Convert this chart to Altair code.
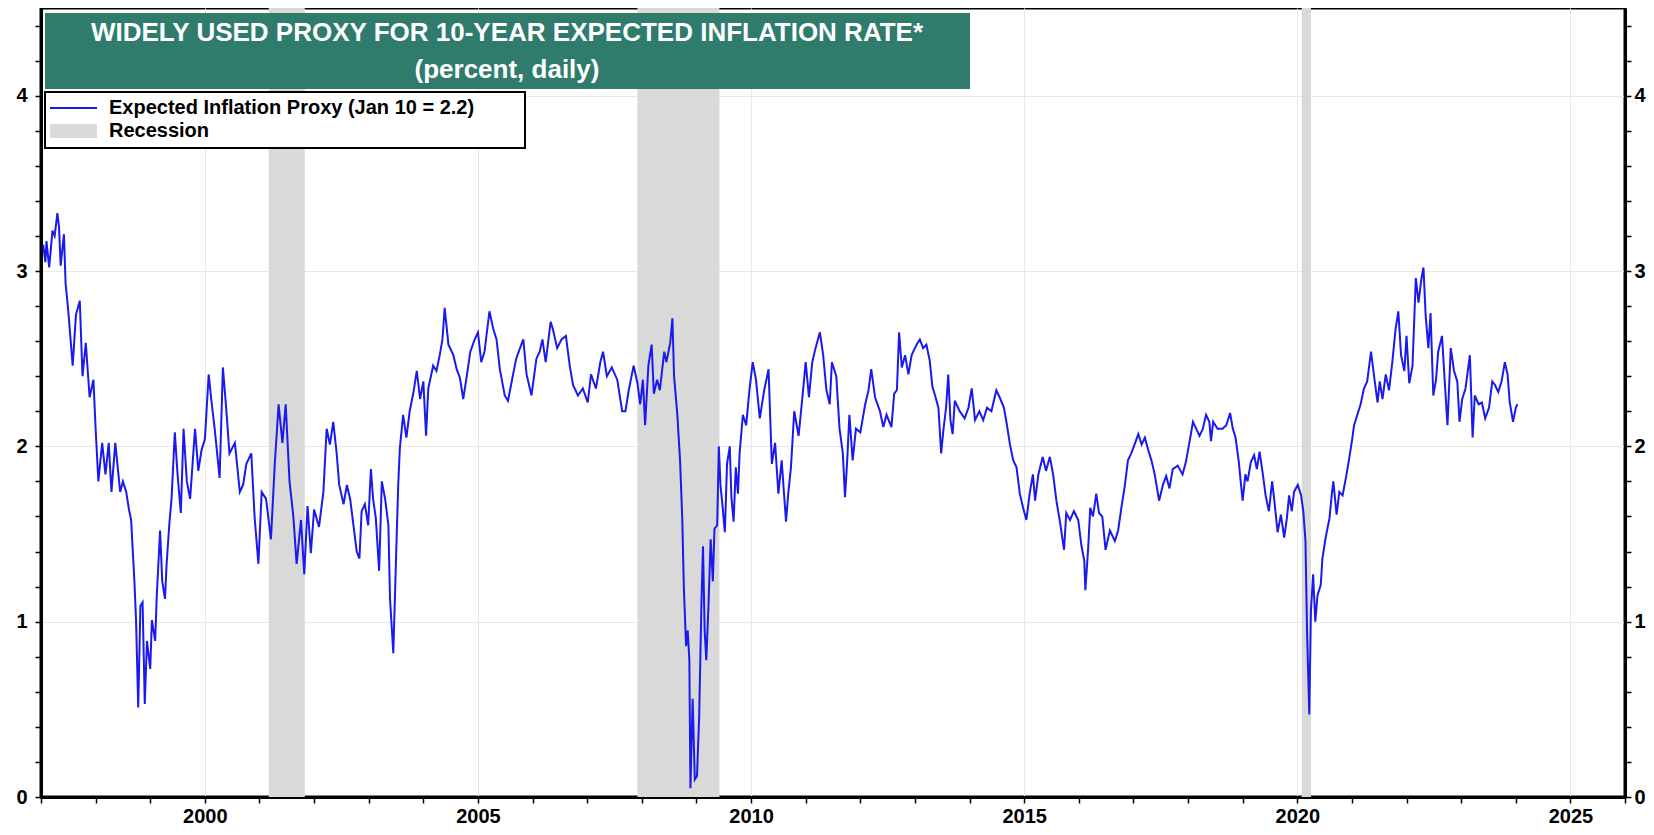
import altair as alt
import pandas as pd

# ---- data (decimal year, percent) ----
years = [
    1997.04, 1997.08, 1997.10, 1997.15, 1997.21, 1997.25, 1997.30, 1997.33, 1997.36, 1997.42,
    1997.45, 1997.50, 1997.58, 1997.64, 1997.71, 1997.76, 1997.82, 1997.89, 1997.96, 1998.00,
    1998.05, 1998.12, 1998.18, 1998.24, 1998.29, 1998.36, 1998.45, 1998.50, 1998.56, 1998.61,
    1998.65, 1998.71, 1998.74, 1998.78, 1998.82, 1998.86, 1998.90, 1998.94, 1999.00, 1999.03,
    1999.09, 1999.12, 1999.18, 1999.22, 1999.27, 1999.30, 1999.35, 1999.39, 1999.45, 1999.50,
    1999.56, 1999.61, 1999.67, 1999.73, 1999.82, 1999.88, 1999.94, 2000.00, 2000.07, 2000.12,
    2000.18, 2000.27, 2000.33, 2000.39, 2000.45, 2000.55, 2000.64, 2000.70, 2000.76, 2000.85,
    2000.91, 2000.98, 2001.04, 2001.12, 2001.21, 2001.28, 2001.35, 2001.42, 2001.48, 2001.55,
    2001.62, 2001.68, 2001.76, 2001.82, 2001.88, 2001.94, 2002.00, 2002.09, 2002.17, 2002.23,
    2002.29, 2002.35, 2002.41, 2002.46, 2002.54, 2002.60, 2002.66, 2002.72, 2002.78, 2002.83,
    2002.87, 2002.93, 2002.99, 2003.04, 2003.08, 2003.13, 2003.19, 2003.24, 2003.30, 2003.36,
    2003.39, 2003.45, 2003.50, 2003.54, 2003.57, 2003.63, 2003.69, 2003.75, 2003.82, 2003.88,
    2003.94, 2004.00, 2004.05, 2004.09, 2004.18, 2004.24, 2004.30, 2004.35, 2004.39, 2004.46,
    2004.55, 2004.61, 2004.67, 2004.73, 2004.79, 2004.86, 2004.94, 2005.00, 2005.06, 2005.12,
    2005.21, 2005.28, 2005.34, 2005.40, 2005.49, 2005.55, 2005.63, 2005.70, 2005.77, 2005.83,
    2005.89, 2005.98, 2006.07, 2006.13, 2006.18, 2006.24, 2006.33, 2006.37, 2006.45, 2006.53,
    2006.61, 2006.68, 2006.74, 2006.83, 2006.92, 2007.01, 2007.07, 2007.16, 2007.24, 2007.29,
    2007.36, 2007.45, 2007.55, 2007.64, 2007.70, 2007.76, 2007.85, 2007.92, 2007.97, 2008.02,
    2008.06, 2008.12, 2008.18, 2008.22, 2008.28, 2008.33, 2008.41, 2008.45, 2008.52, 2008.56,
    2008.59, 2008.65, 2008.70, 2008.74, 2008.77, 2008.81, 2008.84, 2008.87, 2008.89, 2008.93,
    2008.97, 2009.01, 2009.05, 2009.09, 2009.12, 2009.15, 2009.18, 2009.22, 2009.26, 2009.30,
    2009.33, 2009.38, 2009.41, 2009.44, 2009.48, 2009.52, 2009.56, 2009.61, 2009.64, 2009.68,
    2009.72, 2009.76, 2009.79, 2009.85, 2009.91, 2009.97, 2010.03, 2010.09, 2010.16, 2010.24,
    2010.32, 2010.38, 2010.44, 2010.50, 2010.56, 2010.64, 2010.68, 2010.73, 2010.79, 2010.87,
    2010.94, 2011.00, 2011.06, 2011.12, 2011.18, 2011.26, 2011.32, 2011.38, 2011.44, 2011.48,
    2011.56, 2011.62, 2011.68, 2011.72, 2011.76, 2011.80, 2011.86, 2011.92, 2012.00, 2012.09,
    2012.15, 2012.20, 2012.27, 2012.36, 2012.42, 2012.48, 2012.57, 2012.62, 2012.67, 2012.71,
    2012.76, 2012.82, 2012.88, 2012.94, 2013.03, 2013.09, 2013.15, 2013.21, 2013.27, 2013.32,
    2013.36, 2013.43, 2013.48, 2013.52, 2013.57, 2013.61, 2013.65, 2013.69, 2013.73, 2013.82,
    2013.91, 2013.98, 2014.04, 2014.10, 2014.18, 2014.25, 2014.32, 2014.40, 2014.49, 2014.55,
    2014.63, 2014.68, 2014.74, 2014.80, 2014.86, 2014.92, 2014.98, 2015.04, 2015.10, 2015.16,
    2015.20, 2015.26, 2015.34, 2015.40, 2015.47, 2015.53, 2015.59, 2015.65, 2015.73, 2015.77,
    2015.84, 2015.91, 2015.99, 2016.05, 2016.10, 2016.12, 2016.17, 2016.21, 2016.26, 2016.32,
    2016.37, 2016.43, 2016.49, 2016.57, 2016.66, 2016.72, 2016.78, 2016.84, 2016.90, 2016.96,
    2017.02, 2017.09, 2017.15, 2017.21, 2017.27, 2017.33, 2017.39, 2017.47, 2017.54, 2017.60,
    2017.66, 2017.72, 2017.81, 2017.90, 2017.96, 2018.03, 2018.09, 2018.15, 2018.21, 2018.27,
    2018.33, 2018.39, 2018.42, 2018.46, 2018.54, 2018.63, 2018.70, 2018.77, 2018.82, 2018.87,
    2018.93, 2018.97, 2019.00, 2019.05, 2019.09, 2019.15, 2019.21, 2019.26, 2019.31, 2019.37,
    2019.42, 2019.48, 2019.54, 2019.58, 2019.64, 2019.70, 2019.76, 2019.81, 2019.85, 2019.90,
    2019.94, 2020.01, 2020.07, 2020.11, 2020.15, 2020.18, 2020.22, 2020.25, 2020.29, 2020.33,
    2020.37, 2020.43, 2020.46, 2020.52, 2020.59, 2020.63, 2020.66, 2020.72, 2020.77, 2020.83,
    2020.89, 2020.94, 2021.00, 2021.04, 2021.10, 2021.16, 2021.22, 2021.28, 2021.35, 2021.41,
    2021.47, 2021.51, 2021.56, 2021.62, 2021.68, 2021.74, 2021.80, 2021.85, 2021.90, 2021.96,
    2022.00, 2022.05, 2022.11, 2022.17, 2022.22, 2022.27, 2022.31, 2022.35, 2022.40, 2022.44,
    2022.49, 2022.54, 2022.58, 2022.65, 2022.69, 2022.75, 2022.81, 2022.87, 2022.93, 2022.97,
    2023.02, 2023.08, 2023.16, 2023.21, 2023.25, 2023.32, 2023.38, 2023.44, 2023.51, 2023.57,
    2023.62, 2023.68, 2023.74, 2023.80, 2023.85, 2023.89, 2023.95, 2024.00, 2024.03,
]
values = [
    3.15, 3.05, 3.17, 3.02, 3.23, 3.20, 3.33, 3.25, 3.03, 3.21,
    2.93, 2.77, 2.46, 2.75, 2.83, 2.40, 2.59, 2.28, 2.38, 2.10,
    1.80, 2.02, 1.84, 2.02, 1.74, 2.02, 1.74, 1.80, 1.74, 1.64,
    1.58, 1.23, 1.01, 0.51, 1.09, 1.11, 0.53, 0.89, 0.73, 1.01,
    0.89, 1.15, 1.52, 1.23, 1.13, 1.33, 1.56, 1.70, 2.08, 1.84,
    1.62, 2.10, 1.80, 1.70, 2.10, 1.86, 1.98, 2.04, 2.41, 2.26,
    2.10, 1.82, 2.45, 2.22, 1.96, 2.02, 1.74, 1.78, 1.90, 1.96,
    1.60, 1.33, 1.74, 1.70, 1.47, 1.90, 2.24, 2.02, 2.24, 1.80,
    1.60, 1.33, 1.58, 1.27, 1.66, 1.39, 1.64, 1.54, 1.74, 2.10,
    2.01, 2.14, 1.97, 1.78, 1.67, 1.78, 1.70, 1.55, 1.40, 1.36,
    1.63, 1.67, 1.55, 1.87, 1.70, 1.59, 1.29, 1.80, 1.70, 1.55,
    1.13, 0.82, 1.36, 1.78, 1.99, 2.18, 2.05, 2.20, 2.31, 2.43,
    2.27, 2.37, 2.06, 2.33, 2.46, 2.43, 2.52, 2.61, 2.79, 2.58,
    2.52, 2.44, 2.39, 2.27, 2.39, 2.54, 2.61, 2.65, 2.48, 2.54,
    2.77, 2.67, 2.61, 2.44, 2.29, 2.26, 2.39, 2.50, 2.56, 2.61,
    2.41, 2.29, 2.50, 2.54, 2.61, 2.48, 2.71, 2.67, 2.56, 2.61,
    2.63, 2.46, 2.35, 2.29, 2.33, 2.25, 2.41, 2.33, 2.48, 2.54,
    2.40, 2.45, 2.38, 2.20, 2.20, 2.32, 2.46, 2.36, 2.24, 2.38,
    2.12, 2.46, 2.58, 2.30, 2.38, 2.32, 2.54, 2.48, 2.59, 2.73,
    2.40, 2.18, 1.92, 1.59, 1.19, 0.86, 0.95, 0.78, 0.05, 0.56,
    0.10, 0.12, 0.46, 1.09, 1.43, 0.95, 0.78, 1.09, 1.47, 1.23,
    1.53, 1.55, 2.00, 1.78, 1.65, 1.51, 1.90, 2.00, 1.71, 1.57,
    1.88, 1.73, 1.96, 2.18, 2.12, 2.32, 2.48, 2.38, 2.16, 2.32,
    2.44, 1.90, 2.02, 1.73, 1.92, 1.57, 1.73, 1.88, 2.20, 2.06,
    2.28, 2.48, 2.28, 2.48, 2.56, 2.65, 2.52, 2.32, 2.24, 2.48,
    2.40, 2.10, 1.96, 1.71, 1.92, 2.18, 1.92, 2.10, 2.08, 2.24,
    2.32, 2.44, 2.28, 2.20, 2.11, 2.18, 2.11, 2.30, 2.32, 2.65,
    2.45, 2.52, 2.41, 2.52, 2.58, 2.61, 2.56, 2.58, 2.49, 2.34,
    2.30, 2.22, 1.96, 2.09, 2.22, 2.41, 2.15, 2.07, 2.26, 2.20,
    2.16, 2.22, 2.33, 2.15, 2.20, 2.15, 2.22, 2.20, 2.32, 2.28,
    2.22, 2.13, 2.01, 1.92, 1.88, 1.73, 1.65, 1.58, 1.73, 1.84,
    1.69, 1.84, 1.94, 1.86, 1.94, 1.84, 1.69, 1.58, 1.41, 1.62,
    1.58, 1.63, 1.58, 1.43, 1.35, 1.18, 1.41, 1.65, 1.60, 1.73,
    1.62, 1.60, 1.41, 1.52, 1.46, 1.52, 1.65, 1.77, 1.92, 1.96,
    2.01, 2.07, 2.01, 2.05, 1.98, 1.92, 1.84, 1.69, 1.78, 1.83,
    1.76, 1.87, 1.89, 1.84, 1.91, 2.03, 2.14, 2.10, 2.06, 2.10,
    2.18, 2.14, 2.03, 2.14, 2.10, 2.10, 2.12, 2.19, 2.10, 2.05,
    1.91, 1.78, 1.69, 1.84, 1.80, 1.91, 1.95, 1.87, 1.97, 1.84,
    1.72, 1.63, 1.80, 1.69, 1.51, 1.61, 1.48, 1.59, 1.72, 1.63,
    1.74, 1.78, 1.72, 1.63, 1.46, 0.93, 0.47, 1.06, 1.27, 1.00,
    1.15, 1.21, 1.36, 1.48, 1.59, 1.72, 1.80, 1.61, 1.74, 1.72,
    1.82, 1.91, 2.03, 2.12, 2.18, 2.24, 2.33, 2.37, 2.54, 2.39,
    2.25, 2.37, 2.27, 2.41, 2.32, 2.48, 2.67, 2.77, 2.52, 2.43,
    2.63, 2.36, 2.46, 2.96, 2.82, 2.95, 3.02, 2.75, 2.56, 2.76,
    2.29, 2.38, 2.54, 2.63, 2.42, 2.12, 2.56, 2.43, 2.37, 2.14,
    2.27, 2.33, 2.52, 2.05, 2.29, 2.24, 2.25, 2.16, 2.22, 2.37,
    2.35, 2.31, 2.37, 2.48, 2.41, 2.25, 2.14, 2.22, 2.24,
]

# NBER recessions (decimal years)
rec_start = [2001.17, 2007.92, 2020.08]
rec_end = [2001.83, 2009.42, 2020.25]

x_tick_values = list(range(1997, 2027))
y_tick_values = [round(i * 0.2, 1) for i in range(23)]

title_lines = ["WIDELY USED PROXY FOR 10-YEAR EXPECTED INFLATION RATE*", "(percent, daily)"]
legend_labels = ["Expected Inflation Proxy (Jan 10 = 2.2)", "Recession"]

LINE_COLOR = "#1a1aef"
REC_COLOR = "#d9d9d9"
BOX_COLOR = "#2f7c6c"
FONT = "Liberation Sans"

line_df = pd.DataFrame({"year": years, "value": values})
rec_df = pd.DataFrame({"start": rec_start, "end": rec_end})
one = alt.Data(values=[{"k": 0}])

W, H = 1584, 789
xscale = alt.Scale(domain=[1997, 2026], nice=False, zero=False)
yscale = alt.Scale(domain=[0, 4.5], nice=False, zero=True)

x_axis = alt.Axis(
    values=x_tick_values, format="d", orient="bottom",
    labelExpr="datum.value % 5 === 0 ? datum.label : ''",
    labelOverlap=False, labelFlush=False, title=None,
    labelFontSize=20, labelPadding=3,
    gridOpacity={"condition": {"test": "datum.value % 5 === 0", "value": 1}, "value": 0},
)
y_left = alt.Axis(
    values=y_tick_values, format=".0f", orient="left",
    labelExpr="abs(datum.value - round(datum.value)) < 0.01 ? datum.label : ''",
    labelOverlap=False, labelFlush=False, title=None,
    labelFontSize=20, labelPadding=8,
    gridOpacity={"condition": {"test": "abs(datum.value - round(datum.value)) < 0.01", "value": 1}, "value": 0},
)
y_right = alt.Axis(
    values=y_tick_values, format=".0f", orient="right",
    labelExpr="abs(datum.value - round(datum.value)) < 0.01 ? datum.label : ''",
    labelOverlap=False, labelFlush=False, title=None, grid=False,
    labelFontSize=20, labelPadding=3,
)

rec = alt.Chart(rec_df).mark_rect(color=REC_COLOR).encode(
    x=alt.X("start:Q", scale=xscale, axis=x_axis),
    x2="end:Q",
)

line = alt.Chart(line_df).mark_line(color=LINE_COLOR, strokeWidth=2, clip=True).encode(
    x=alt.X("year:Q", scale=xscale, axis=x_axis),
    y=alt.Y("value:Q", scale=yscale, axis=y_left),
)

line_right = alt.Chart(line_df).mark_line(strokeOpacity=0).encode(
    x=alt.X("year:Q", scale=xscale, axis=x_axis),
    y=alt.Y("value:Q", scale=yscale, axis=y_right),
)

title_box = alt.Chart(one).mark_rect(color=BOX_COLOR).encode(
    x=alt.value(4), x2=alt.value(929), y=alt.value(5), y2=alt.value(81)
)
title_t1 = alt.Chart(one).mark_text(
    text=title_lines[0], font=FONT, fontSize=26, fontWeight="bold", color="white",
    align="center", baseline="middle"
).encode(x=alt.value(466), y=alt.value(25))
title_t2 = alt.Chart(one).mark_text(
    text=title_lines[1], font=FONT, fontSize=26, fontWeight="bold", color="white",
    align="center", baseline="middle"
).encode(x=alt.value(466), y=alt.value(62))

leg_box = alt.Chart(one).mark_rect(fill="white", stroke="black", strokeWidth=2).encode(
    x=alt.value(4), x2=alt.value(484), y=alt.value(84), y2=alt.value(140)
)
leg_line = alt.Chart(one).mark_rule(color=LINE_COLOR, strokeWidth=2).encode(
    x=alt.value(9), x2=alt.value(56), y=alt.value(100)
)
leg_rect = alt.Chart(one).mark_rect(color=REC_COLOR).encode(
    x=alt.value(9), x2=alt.value(56), y=alt.value(116), y2=alt.value(130)
)
leg_t1 = alt.Chart(one).mark_text(
    text=legend_labels[0], font=FONT, fontSize=20, fontWeight="bold", color="black",
    align="left", baseline="middle"
).encode(x=alt.value(68), y=alt.value(100))
leg_t2 = alt.Chart(one).mark_text(
    text=legend_labels[1], font=FONT, fontSize=20, fontWeight="bold", color="black",
    align="left", baseline="middle"
).encode(x=alt.value(68), y=alt.value(123))

chart = alt.layer(
    rec, line, line_right, title_box, title_t1, title_t2,
    leg_box, leg_line, leg_rect, leg_t1, leg_t2,
).resolve_scale(
    y="independent"
).properties(
    width=W, height=H,
    padding={"left": 33, "top": 0, "right": 21, "bottom": 30},
    autosize=alt.AutoSizeParams(type="none"),
    background="white",
).configure_view(
    stroke="black", strokeWidth=3
).configure_axis(
    domainColor="black", domainWidth=3,
    tickColor="black", tickSize=6, tickWidth=1.5,
    gridColor="#e8e8e8", gridWidth=1,
    labelFont=FONT, labelFontWeight="bold", labelColor="black",
)

chart.save("out.html", embed_options={"renderer": "svg", "actions": False})
